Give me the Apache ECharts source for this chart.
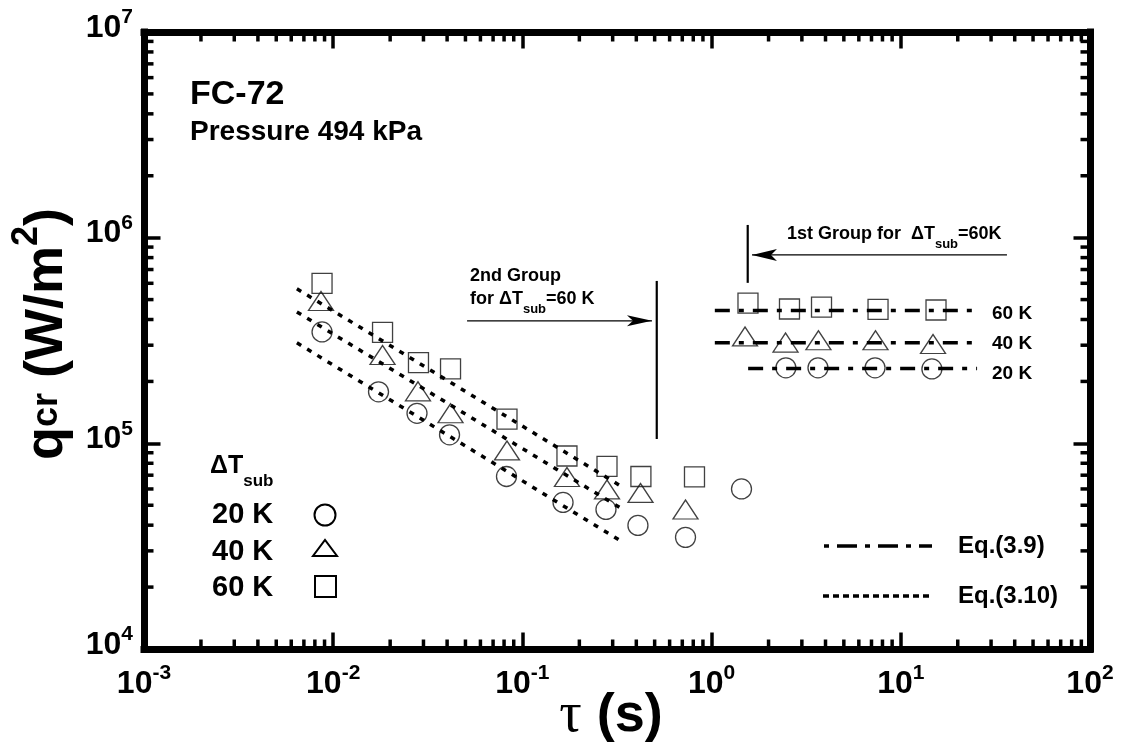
<!DOCTYPE html>
<html><head><meta charset="utf-8">
<script src="https://cdn.jsdelivr.net/npm/echarts@6/dist/echarts.min.js"></script>
<style>html,body{margin:0;padding:0;background:#fff}#c{width:1121px;height:742px}</style>
</head><body><div id="c"></div>
<script>
// ---------------- data ----------------
const tau20 = [0.00873, 0.01736, 0.02773, 0.0412, 0.0824, 0.164, 0.2765, 0.408, 0.728, 1.439, 2.47, 3.65, 7.31, 14.6];
const q20   = [3.48e5, 1.78e5, 1.40e5, 1.10e5, 6.90e4, 5.16e4, 4.77e4, 3.99e4, 3.49e4, 6.00e4, 2.33e5, 2.33e5, 2.33e5, 2.30e5];
const tau40 = [0.00862, 0.01823, 0.02806, 0.0417, 0.0829, 0.172, 0.280, 0.421, 0.728, 1.502, 2.459, 3.67, 7.35, 14.8];
const q40   = [4.92e5, 2.69e5, 1.79e5, 1.40e5, 9.24e4, 6.86e4, 5.97e4, 5.74e4, 4.77e4, 3.31e5, 3.09e5, 3.17e5, 3.17e5, 3.04e5];
const tau60 = [0.00873, 0.01823, 0.02823, 0.0417, 0.0829, 0.172, 0.280, 0.423, 0.812, 1.557, 2.58, 3.81, 7.58, 15.35];
const q60   = [5.99e5, 3.46e5, 2.47e5, 2.30e5, 1.31e5, 8.68e4, 7.72e4, 6.90e4, 6.87e4, 4.81e5, 4.50e5, 4.60e5, 4.48e5, 4.45e5];

// Eq.(3.9): horizontal lines (20 K, 40 K, 60 K)
const eq39Start = [1.56, 1.04, 1.04];
const eq39End   = [25.3, 25.3, 25.3];
const eq39Q     = [2.31e5, 3.08e5, 4.43e5];
// Eq.(3.10): sloped lines
const eq310Tau = [0.00643, 0.344];
const eq310Q20 = [3.08e5, 3.28e4];
const eq310Q40 = [4.35e5, 4.74e4];
const eq310Q60 = [5.64e5, 6.07e4];

// annotation lines
const group2LineTau = [0.513, 0.513];
const group2LineQ   = [1.05e5, 6.16e5];
const group1LineTau = [1.552, 1.552];
const group1LineQ   = [6.03e5, 1.153e6];
const group2ArrowTau = [0.0510, 0.484];
const group2ArrowQ   = [3.94e5, 3.94e5];
const group1ArrowTau = [36.4, 1.635];
const group1ArrowQ   = [8.24e5, 8.24e5];

const xTickExps = [-3, -2, -1, 0, 1, 2];
const yTickExps = [4, 5, 6, 7];
const seriesLabels = ['20 K', '40 K', '60 K'];

// ---------------- chart ----------------
const FONT = "'Liberation Sans', Arial, Helvetica, sans-serif";
const zip = (a, b) => a.map((v, i) => [v, b[i]]);
const supRich = {
  b: {fontSize: 32, fontWeight: 'bold', fontFamily: FONT, color: '#000', lineHeight: 42},
  s: {fontSize: 21, fontWeight: 'bold', fontFamily: FONT, color: '#000', verticalAlign: 'top'}
};
function expLabel(v) { const e = Math.round(Math.log10(v)); return '{b|10}{s|' + e + '}'; }

const chart = echarts.init(document.getElementById('c'));
function mkAxis(kind, pos, min, max, showLabel) {
  const ax = {
    type: 'log', logBase: 10, min: min, max: max, position: pos,
    axisLine: {show: true, onZero: false, lineStyle: {color: '#000', width: 7, cap: 'square'}},
    axisTick: {show: true, inside: true, length: 16.5, lineStyle: {color: '#000', width: 3.5}},
    axisLabel: {show: showLabel, formatter: expLabel, rich: supRich},
    splitLine: {show: false}, minorTick: {show: false}
  };
  if (kind === 'x') ax.axisLabel.margin = 14;
  else { ax.axisLabel.margin = 11; ax.axisLabel.padding = [0, 0, 8, 0]; }
  return ax;
}
const mk = (name, sym, size, t, q) => ({
  type: 'scatter', name: name, symbol: sym, symbolSize: size, data: zip(t, q), z: 3,
  itemStyle: {color: 'rgba(0,0,0,0)', borderColor: '#111', borderWidth: 1.3}
});
const ln = (t, q, dash, w) => ({
  type: 'line', data: zip(t, q), symbol: 'none', silent: true, z: 4,
  lineStyle: {color: '#000', width: w, type: dash, cap: 'butt'}
});
const dashDot = [15, 9, 5, 9];
const dotted = [5, 7];
const series = [
  mk(seriesLabels[0], 'circle', 20, tau20, q20),
  mk(seriesLabels[1], 'triangle', [25, 19], tau40, q40),
  mk(seriesLabels[2], 'rect', 20, tau60, q60),
  ln(eq310Tau, eq310Q20, dotted, 3.5),
  ln(eq310Tau, eq310Q40, dotted, 3.5),
  ln(eq310Tau, eq310Q60, dotted, 3.5),
  ln([eq39Start[0], eq39End[0]], [eq39Q[0], eq39Q[0]], dashDot, 3.5),
  ln([eq39Start[1], eq39End[1]], [eq39Q[1], eq39Q[1]], dashDot, 3.5),
  ln([eq39Start[2], eq39End[2]], [eq39Q[2], eq39Q[2]], dashDot, 3.5),
  ln(group2LineTau, group2LineQ, 'solid', 2.2),
  ln(group1LineTau, group1LineQ, 'solid', 2.2),
  ln(group2ArrowTau, group2ArrowQ, 'solid', 1.3),
  ln(group1ArrowTau, group1ArrowQ, 'solid', 1.3)
];

chart.setOption({
  animation: false,
  backgroundColor: '#fff',
  grid: {left: 144, right: 31, top: 32, bottom: 93, containLabel: false},
  xAxis: [mkAxis('x', 'bottom', 1e-3, 1e2, true), mkAxis('x', 'top', 1e-3, 1e2, false)],
  yAxis: [mkAxis('y', 'left', 1e4, 1e7, true), mkAxis('y', 'right', 1e4, 1e7, false)],
  series: series
});

// ---------------- graphics (minor ticks, texts, legend) ----------------
const P = (x, y) => chart.convertToPixel({xAxisIndex: 0, yAxisIndex: 0}, [x, y]);
const g = [];
const L = P(1e-3, 1e4), R = P(1e2, 1e7);
const x0 = L[0], yB = L[1], x1 = R[0], yT = R[1];
const MINOR = 9.5;
const tickStyle = {stroke: '#000', lineWidth: 3.5};
for (let e = xTickExps[0]; e < xTickExps[xTickExps.length - 1]; e++) {
  for (let k = 2; k <= 9; k++) {
    const px = P(k * Math.pow(10, e), 1e5)[0];
    g.push({type: 'line', shape: {x1: px, y1: yB, x2: px, y2: yB - MINOR}, style: tickStyle, silent: true});
    g.push({type: 'line', shape: {x1: px, y1: yT, x2: px, y2: yT + MINOR}, style: tickStyle, silent: true});
  }
}
for (let e = yTickExps[0]; e < yTickExps[yTickExps.length - 1]; e++) {
  for (let k = 2; k <= 9; k++) {
    const py = P(1, k * Math.pow(10, e))[1];
    g.push({type: 'line', shape: {x1: x0, y1: py, x2: x0 + MINOR, y2: py}, style: tickStyle, silent: true});
    g.push({type: 'line', shape: {x1: x1, y1: py, x2: x1 - MINOR, y2: py}, style: tickStyle, silent: true});
  }
}

function txt(text, x, y, size, extra) {
  const st = Object.assign({text: text, x: x, y: y, fill: '#000',
    font: 'bold ' + size + 'px ' + FONT, align: 'left', verticalAlign: 'middle',
    textAlign: 'left', textVerticalAlign: 'middle'}, extra || {});
  g.push({type: 'text', style: st, silent: true, z: 10});
}
// titles inside plot
txt('FC-72', 190, 95, 34);
txt('Pressure 494 kPa', 190, 132, 28);

// arrowheads
const a2 = P(group2ArrowTau[1], group2ArrowQ[1]);
g.push({type: 'polygon', shape: {points: [[a2[0], a2[1]], [a2[0] - 25, a2[1] - 5.5], [a2[0] - 19, a2[1]], [a2[0] - 25, a2[1] + 5.5]]},
  style: {fill: '#000'}, silent: true});
const a1 = P(group1ArrowTau[1], group1ArrowQ[1]);
g.push({type: 'polygon', shape: {points: [[a1[0], a1[1]], [a1[0] + 25, a1[1] - 6], [a1[0] + 19, a1[1]], [a1[0] + 25, a1[1] + 6]]},
  style: {fill: '#000'}, silent: true});

// annotation texts
const annRich = {
  m: {fontSize: 18, fontWeight: 'bold', fontFamily: FONT, color: '#000', lineHeight: 33},
  s: {fontSize: 13, fontWeight: 'bold', fontFamily: FONT, color: '#000', verticalAlign: 'bottom'}
};
txt('2nd Group', 470, 276, 18);
txt('{m|for ΔT}{s|sub}{m|=60 K}', 470, 299, 18, {rich: annRich});
txt('{m|1st Group for  ΔT}{s|sub}{m|=60K}', 787, 234, 18, {rich: annRich});

// right labels of Eq.(3.9) lines
txt(seriesLabels[2], 992, 313.5, 19);
txt(seriesLabels[1], 992, 344, 19);
txt(seriesLabels[0], 992, 373.5, 19);

// symbol legend
const legRich = {
  a: {fontSize: 25, fontWeight: 'bold', fontFamily: FONT, color: '#000', lineHeight: 47},
  s: {fontSize: 17, fontWeight: 'bold', fontFamily: FONT, color: '#000', verticalAlign: 'bottom'}
};
txt('{a|ΔT}{s|sub}', 210, 466, 25, {rich: legRich});
txt(seriesLabels[0], 212, 515, 29);
txt(seriesLabels[1], 212, 552, 29);
txt(seriesLabels[2], 212, 588, 29);
const legSt = {fill: 'none', stroke: '#000', lineWidth: 2};
g.push({type: 'circle', shape: {cx: 325, cy: 515, r: 10.5}, style: legSt, silent: true});
g.push({type: 'polygon', shape: {points: [[313, 556], [337, 556], [325, 540]]}, style: legSt, silent: true});
g.push({type: 'rect', shape: {x: 315, y: 576, width: 21, height: 21}, style: legSt, silent: true});

// line legend
g.push({type: 'line', shape: {x1: 824, y1: 546, x2: 932, y2: 546}, style: {stroke: '#000', lineWidth: 3.5, lineDash: [5, 8, 20, 8]}, silent: true});
g.push({type: 'line', shape: {x1: 823, y1: 596, x2: 929, y2: 596}, style: {stroke: '#000', lineWidth: 3.5, lineDash: [6, 4]}, silent: true});
txt('Eq.(3.9)', 958, 546.5, 24);
txt('Eq.(3.10)', 958, 596.5, 24);

// axis titles
g.push({type: 'text', x: 611, y: 716, silent: true, z: 10, style: {
  text: '{t|τ}{m| (s)}', align: 'center', verticalAlign: 'middle', textAlign: 'center', textVerticalAlign: 'middle',
  rich: {t: {fontSize: 56, fontFamily: "'Liberation Serif', 'DejaVu Serif', serif", color: '#000'},
         m: {fontSize: 54, fontWeight: 'bold', fontFamily: FONT, color: '#000'}}}});
g.push({type: 'text', x: 47, y: 334, rotation: Math.PI / 2, silent: true, z: 10, style: {
  text: '{m|q}{c|cr}{m| (W/m}{p|2}{m|)}', align: 'center', verticalAlign: 'middle', textAlign: 'center', textVerticalAlign: 'middle',
  rich: {m: {fontSize: 54, fontWeight: 'bold', fontFamily: FONT, color: '#000', lineHeight: 76},
         c: {fontSize: 36, fontWeight: 'bold', fontFamily: FONT, color: '#000'},
         p: {fontSize: 36, fontWeight: 'bold', fontFamily: FONT, color: '#000', verticalAlign: 'top'}}}});

chart.setOption({graphic: {elements: g}});
</script>
</body></html>
